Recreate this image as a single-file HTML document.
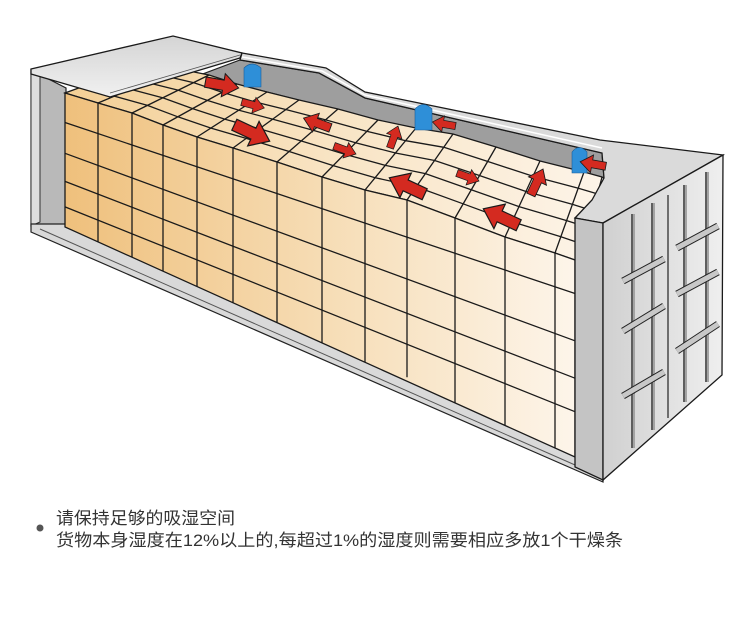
<!DOCTYPE html>
<html><head><meta charset="utf-8"><style>
html,body{margin:0;padding:0;background:#fff;}
svg{display:block}
</style></head><body>
<svg width="750" height="632" viewBox="0 0 750 632" xmlns="http://www.w3.org/2000/svg">
<defs>
<linearGradient id="gf" x1="65" y1="0" x2="575" y2="0" gradientUnits="userSpaceOnUse">
<stop offset="0" stop-color="#efc07c"/><stop offset="0.5" stop-color="#f6dcb4"/><stop offset="1" stop-color="#fdf5ea"/></linearGradient>
<linearGradient id="gt" x1="65" y1="0" x2="600" y2="0" gradientUnits="userSpaceOnUse">
<stop offset="0" stop-color="#f3cf95"/><stop offset="0.5" stop-color="#f8e4c4"/><stop offset="1" stop-color="#fdf4e8"/></linearGradient>
<linearGradient id="gr" x1="0" y1="40" x2="0" y2="100" gradientUnits="userSpaceOnUse">
<stop offset="0" stop-color="#d6d6d6"/><stop offset="1" stop-color="#f2f2f2"/></linearGradient>
<linearGradient id="gd" x1="603" y1="0" x2="723" y2="0" gradientUnits="userSpaceOnUse">
<stop offset="0" stop-color="#d0d0d0"/><stop offset="1" stop-color="#efefef"/></linearGradient>
<path id="ar" d="M0,-4 L14,-4 L14,-9 L26,0 L14,9 L14,4 L0,4 Z"/>
</defs>

<polygon points="31,70 66,88 66,228 31,226" fill="#b9b9b9" stroke="#222" stroke-width="1.2"/>
<polygon points="31,70 40,74 40,222 31,226" fill="#dedede" stroke="#333" stroke-width="1"/>
<polygon points="31,224 65,224 575,455 603,470 603,482 31,232" fill="#d9d9d9" stroke="#222" stroke-width="1.2"/>
<line x1="40" y1="229" x2="600" y2="476" stroke="#555" stroke-width="1"/>

<polygon points="240,60 319,73 365,98 602,153 604,178 200,75" fill="#9e9e9e" stroke="#222" stroke-width="1.2"/>

<polygon points="65,93 98,103 132,113 163,125 197,137 233,148 277,162 322,177 365,190 407,200 455,218 505,237 555,253 575,260 596,200 602,177 584,172 540,161 496,147 453,134 416,128 378,120 338,109 299,100 267,92 237,84 209,75 179,69 150,62" fill="url(#gt)" stroke="#1a1a1a" stroke-width="1.3"/>
<g fill="none" stroke="#1a1a1a" stroke-width="1.3">
<polyline points="82,86.8 114.2,96.1 147.5,105.4 177.8,116.8 211,128.1 246.2,138.4 289.2,151.5 333.2,165.6 375.2,177.7 416.2,186.8 463.1,203.8 512,221.8 560.9,236.8 580.4,243.4"/>
<polyline points="99,80.6 130.5,89.2 163,97.9 192.6,108.6 225,119.2 259.4,128.8 301.4,141 344.3,154.1 385.4,165.4 425.4,173.6 471.2,189.7 519,206.6 566.7,220.6 585.8,226.8"/>
<polyline points="116,74.4 146.7,82.4 178.4,90.3 207.3,100.4 239,110.3 272.5,119.1 313.5,130.4 355.5,142.7 395.5,153 434.7,160.5 479.4,175.5 526,191.5 572.6,204.4 591.2,210.2"/>
<polyline points="133,68.2 163,75.5 193.9,82.8 222.1,92.2 253,101.4 285.7,109.5 325.7,119.9 366.6,131.2 405.7,140.7 443.9,147.3 487.5,161.4 533,176.3 578.4,188.2 596.6,193.6"/>
<line x1="98" y1="103" x2="179" y2="69"/>
<line x1="132" y1="113" x2="209" y2="75"/>
<line x1="163" y1="125" x2="237" y2="84"/>
<line x1="197" y1="137" x2="267" y2="92"/>
<line x1="233" y1="148" x2="299" y2="100"/>
<line x1="277" y1="162" x2="338" y2="109"/>
<line x1="322" y1="177" x2="378" y2="120"/>
<line x1="365" y1="190" x2="416" y2="128"/>
<line x1="407" y1="200" x2="453" y2="134"/>
<line x1="455" y1="218" x2="496" y2="147"/>
<line x1="505" y1="237" x2="540" y2="161"/>
<line x1="555" y1="253" x2="584" y2="172"/>
</g>

<polygon points="65,93 98,103 132,113 163,125 197,137 233,148 277,162 322,177 365,190 407,200 455,218 505,237 555,253 575,260 575,457 65,227" fill="url(#gf)" stroke="#1a1a1a" stroke-width="1.3"/>
<g fill="none" stroke="#1a1a1a" stroke-width="1.3">
<line x1="65" y1="122.5" x2="575" y2="293.5"/>
<line x1="65" y1="153.3" x2="575" y2="340.8"/>
<line x1="65" y1="181.4" x2="575" y2="378.2"/>
<line x1="65" y1="206.9" x2="575" y2="411.7"/>
<line x1="98" y1="103" x2="98" y2="241.9"/>
<line x1="132" y1="113" x2="132" y2="257.2"/>
<line x1="163" y1="125" x2="163" y2="271.2"/>
<line x1="197" y1="137" x2="197" y2="286.5"/>
<line x1="233" y1="148" x2="233" y2="302.8"/>
<line x1="277" y1="162" x2="277" y2="322.6"/>
<line x1="322" y1="177" x2="322" y2="342.9"/>
<line x1="365" y1="190" x2="365" y2="362.3"/>
<line x1="407" y1="200" x2="407" y2="377.2"/>
<line x1="455" y1="218" x2="455" y2="402.9"/>
<line x1="505" y1="237" x2="505" y2="425.4"/>
<line x1="555" y1="253" x2="555" y2="448"/>
</g>

<polygon points="31,69 173,36 242,53 240,58 110,97 31,74" fill="url(#gr)" stroke="#1a1a1a" stroke-width="1.3"/>
<line x1="110" y1="93" x2="240" y2="55" stroke="#555" stroke-width="0.8"/>
<polygon points="242,53 326,68 365,92 600,140 723,155 603,223 575,218 592,200 604,178 602,153 365,98 319,73 240,60" fill="#dadada" stroke="#1a1a1a" stroke-width="1.3"/>
<polyline points="242,57 322,71 365,95 602,148" fill="none" stroke="#fff" stroke-width="1.5"/>

<polygon points="575,218 603,223 603,480 575,467" fill="#c4c4c4" stroke="#1a1a1a" stroke-width="1.3"/>
<polygon points="603,223 723,155 722,375 603,480" fill="url(#gd)" stroke="#1a1a1a" stroke-width="1.3"/>
<g stroke="#5e5e5e" stroke-width="4">
<line x1="633" y1="214" x2="633" y2="448"/>
<line x1="653" y1="203" x2="653" y2="430"/>
<line x1="685" y1="185" x2="685" y2="402"/>
<line x1="707" y1="172" x2="707" y2="382"/>
</g>
<g stroke="#e8e8e8" stroke-width="1">
<line x1="634" y1="214" x2="634" y2="448"/>
<line x1="654" y1="203" x2="654" y2="430"/>
<line x1="686" y1="185" x2="686" y2="402"/>
<line x1="708" y1="172" x2="708" y2="382"/>
</g>
<line x1="668" y1="195" x2="668" y2="418" stroke="#222" stroke-width="1.2"/>
<g stroke="#222" stroke-width="7">
<line x1="623" y1="281" x2="664" y2="259"/>
<line x1="623" y1="331" x2="664" y2="306"/>
<line x1="623" y1="396" x2="664" y2="372"/>
<line x1="677" y1="248" x2="718" y2="226"/>
<line x1="677" y1="294" x2="718" y2="272"/>
<line x1="677" y1="351" x2="718" y2="324"/>
</g>
<g stroke="#c8c8c8" stroke-width="5">
<line x1="623" y1="281" x2="664" y2="259"/>
<line x1="623" y1="331" x2="664" y2="306"/>
<line x1="623" y1="396" x2="664" y2="372"/>
<line x1="677" y1="248" x2="718" y2="226"/>
<line x1="677" y1="294" x2="718" y2="272"/>
<line x1="677" y1="351" x2="718" y2="324"/>
</g>

<g fill="#2e8fd8" stroke="#1b5f9a" stroke-width="0.6">
<path d="M244,87 L244,68 Q252,60 261,68 L261,87 Z"/>
<path d="M415,130 L415,109 Q423,100 432,109 L432,130 Z"/>
<path d="M572,173 L572,152 Q579,143 587,152 L587,173 Z"/>
</g>

<g fill="#d42a20" stroke="#1a1a1a" stroke-width="0.8">
<use href="#ar" transform="translate(222,85) rotate(10) scale(1.3) translate(-13,0)"/>
<use href="#ar" transform="translate(253,105) rotate(15) scale(0.9) translate(-13,0)"/>
<use href="#ar" transform="translate(317,123) rotate(200) scale(1.1) translate(-13,0)"/>
<use href="#ar" transform="translate(252,133) rotate(25) scale(1.5) translate(-13,0)"/>
<use href="#ar" transform="translate(345,150) rotate(20) scale(0.9) translate(-13,0)"/>
<use href="#ar" transform="translate(394,137) rotate(-70) scale(0.9) translate(-13,0)"/>
<use href="#ar" transform="translate(444,124) rotate(190) scale(0.9) translate(-13,0)"/>
<use href="#ar" transform="translate(407,186) rotate(205) scale(1.5) translate(-13,0)"/>
<use href="#ar" transform="translate(468,177) rotate(20) scale(0.9) translate(-13,0)"/>
<use href="#ar" transform="translate(537,182) rotate(-65) scale(1.1) translate(-13,0)"/>
<use href="#ar" transform="translate(593,164) rotate(190) scale(1.0) translate(-13,0)"/>
<use href="#ar" transform="translate(501,217) rotate(205) scale(1.5) translate(-13,0)"/>
</g>

<circle cx="40" cy="528" r="3.5" fill="#555"/>
<g font-family="'Liberation Sans','Noto Sans CJK SC',sans-serif" font-size="17" fill="#333">
<text x="56" y="524" textLength="179" lengthAdjust="spacingAndGlyphs">请保持足够的吸湿空间</text>
<text x="56" y="546" textLength="567" lengthAdjust="spacingAndGlyphs">货物本身湿度在12%以上的,每超过1%的湿度则需要相应多放1个干燥条</text>
</g>
</svg>
</body></html>
